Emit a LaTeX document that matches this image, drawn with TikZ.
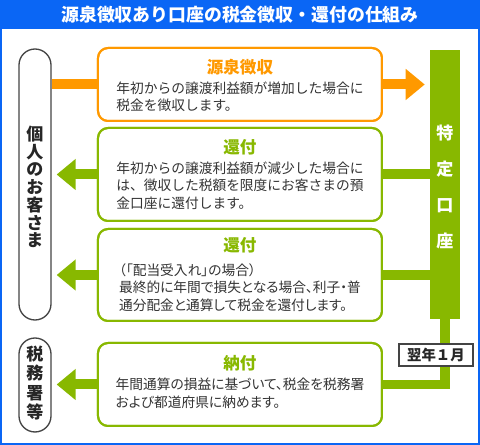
\documentclass[tikz,border=0pt]{standalone}
\usepackage{fontspec}
\setmainfont{Noto Sans CJK JP}
\newfontfamily\jpprop[RawFeature=+palt]{Noto Sans CJK JP}
\usetikzlibrary{arrows.meta}
\definecolor{ttlblue}{RGB}{10,102,245}
\definecolor{grn}{RGB}{136,184,0}
\definecolor{org}{RGB}{255,153,0}
\definecolor{txt}{RGB}{51,51,51}
\definecolor{pilgray}{RGB}{68,68,68}
\newcommand\pxu{0.75pt}
\newcommand\bodyfont{\fontsize{10.3pt}{13.1pt}\selectfont}
\newcommand\headfont{\fontsize{12.4pt}{14pt}\selectfont\bfseries}
\begin{document}
\begin{tikzpicture}[x=0.75pt,y=-0.75pt,
  box/.style={draw=#1, line width=1.5pt, rounded corners=7.5pt, fill=white,
    minimum width=284*\pxu, inner sep=0pt},
  pill/.style={draw=pilgray, line width=1pt, rounded corners=12pt, fill=white,
    minimum width=32*\pxu, inner sep=0pt},
  body/.style={font=\bodyfont, text=txt, align=left, inner sep=0pt},
  bodyp/.style={font=\jpprop\bodyfont, text=txt, align=left, inner sep=0pt},
  head/.style={font=\headfont, text=#1, inner sep=0pt},
  conn/.style={line width=7.5pt, draw=#1},
  tipr/.style={-{Triangle[length=14.25pt,width=22.5pt]}}
]
\useasboundingbox (0,0) rectangle (480,445);
% frame and title
\fill[ttlblue] (0,0) rectangle (480,29.5);
\draw[ttlblue, line width=1.4pt] (0.9,15) rectangle (479.1,444.1);
\node[text=white, font=\fontsize{13.4pt}{15pt}\selectfont\bfseries, inner sep=0pt] (title) at (240,14.5)
  {源泉徴収あり口座の税金徴収・還付の仕組み};

% nodes
\node[pill, minimum height=271*\pxu] (cust) at (35,184.5) {};
\node[pill, minimum height=94*\pxu] (tax) at (35,385) {};
\node[fill=grn, minimum width=30*\pxu, minimum height=269*\pxu, inner sep=0pt] (bar) at (445,184.5) {};

\node[box=org, minimum height=73*\pxu] (b1) at (240,84.5) {};
\node[box=grn, minimum height=93*\pxu] (b2) at (240,174.5) {};
\node[box=grn, minimum height=92*\pxu] (b3) at (240,275) {};
\node[box=grn, minimum height=83*\pxu] (b4) at (240,384.5) {};

% connectors
\draw[conn=org] (cust.east |- b1.west) -- (b1.west);
\draw[conn=org, tipr, shorten >=3.75pt] (b1.east) -- (b1.east -| bar.west);
\draw[conn=grn] (bar.west |- b2.east) -- (b2.east);
\draw[conn=grn, tipr, shorten >=3.75pt] (b2.west) -- (b2.west -| cust.east);
\draw[conn=grn] (bar.west |- b3.east) -- (b3.east);
\draw[conn=grn, tipr, shorten >=3.75pt] (b3.west) -- (b3.west -| cust.east);
\draw[conn=grn, tipr, shorten >=3.75pt] (b4.west) -- (b4.west -| tax.east);
\draw[conn=grn, line width=7pt, miter limit=10] (b4.east) -| (bar.south);

% redraw box borders over connector ends
\node[box=org, minimum height=73*\pxu, fill=none] at (b1) {};
\node[box=grn, minimum height=93*\pxu, fill=none] at (b2) {};
\node[box=grn, minimum height=92*\pxu, fill=none] at (b3) {};
\node[box=grn, minimum height=83*\pxu, fill=none] at (b4) {};

% texts
\node[text=white, font=\fontsize{12.75pt}{27pt}\selectfont\bfseries, align=center, inner sep=0pt] (bartxt) at (445,187)
  {特\\定\\口\\座};
\node[text=black!85, font=\fontsize{12.75pt}{13.3pt}\selectfont\bfseries, align=center, inner sep=0pt] (custtxt) at (35,187)
  {個\\人\\の\\お\\客\\さ\\ま};
\node[text=black!85, font=\fontsize{12.75pt}{14.5pt}\selectfont\bfseries, align=center, inner sep=0pt] (taxtxt) at (35,383)
  {税\\務\\署\\等};

\node[head=org] (h1) at (240,67) {源泉徴収};
\node[body] (t1) at (240,96.5) {年初からの譲渡利益額が増加した場合に\\税金を徴収します。};
\node[head=grn] (h2) at (240,147) {還付};
\node[body] (t2) at (240,185.5) {年初からの譲渡利益額が減少した場合に\\は、徴収した税額を限度にお客さまの預\\金口座に還付します。};
\node[head=grn] (h3) at (240,245) {還付};
\node[bodyp] (t3) at (240,287.5) {（「配当受入れ」の場合）\\最終的に年間で損失となる場合、利子・普\\通分配金と通算して税金を還付します。};
\node[head=grn] (h4) at (240,363) {納付};
\node[bodyp] (t4) at (240,393.5) {年間通算の損益に基づいて、税金を税務署\\および都道府県に納めます。};

\node[draw=pilgray, line width=0.9pt, fill=white, minimum width=74*\pxu, minimum height=22*\pxu, inner sep=0pt,
  font=\fontsize{10.8pt}{12pt}\selectfont\bfseries, text=black!85] (month) at (436,355) {翌年１月};
\end{tikzpicture}
\end{document}
